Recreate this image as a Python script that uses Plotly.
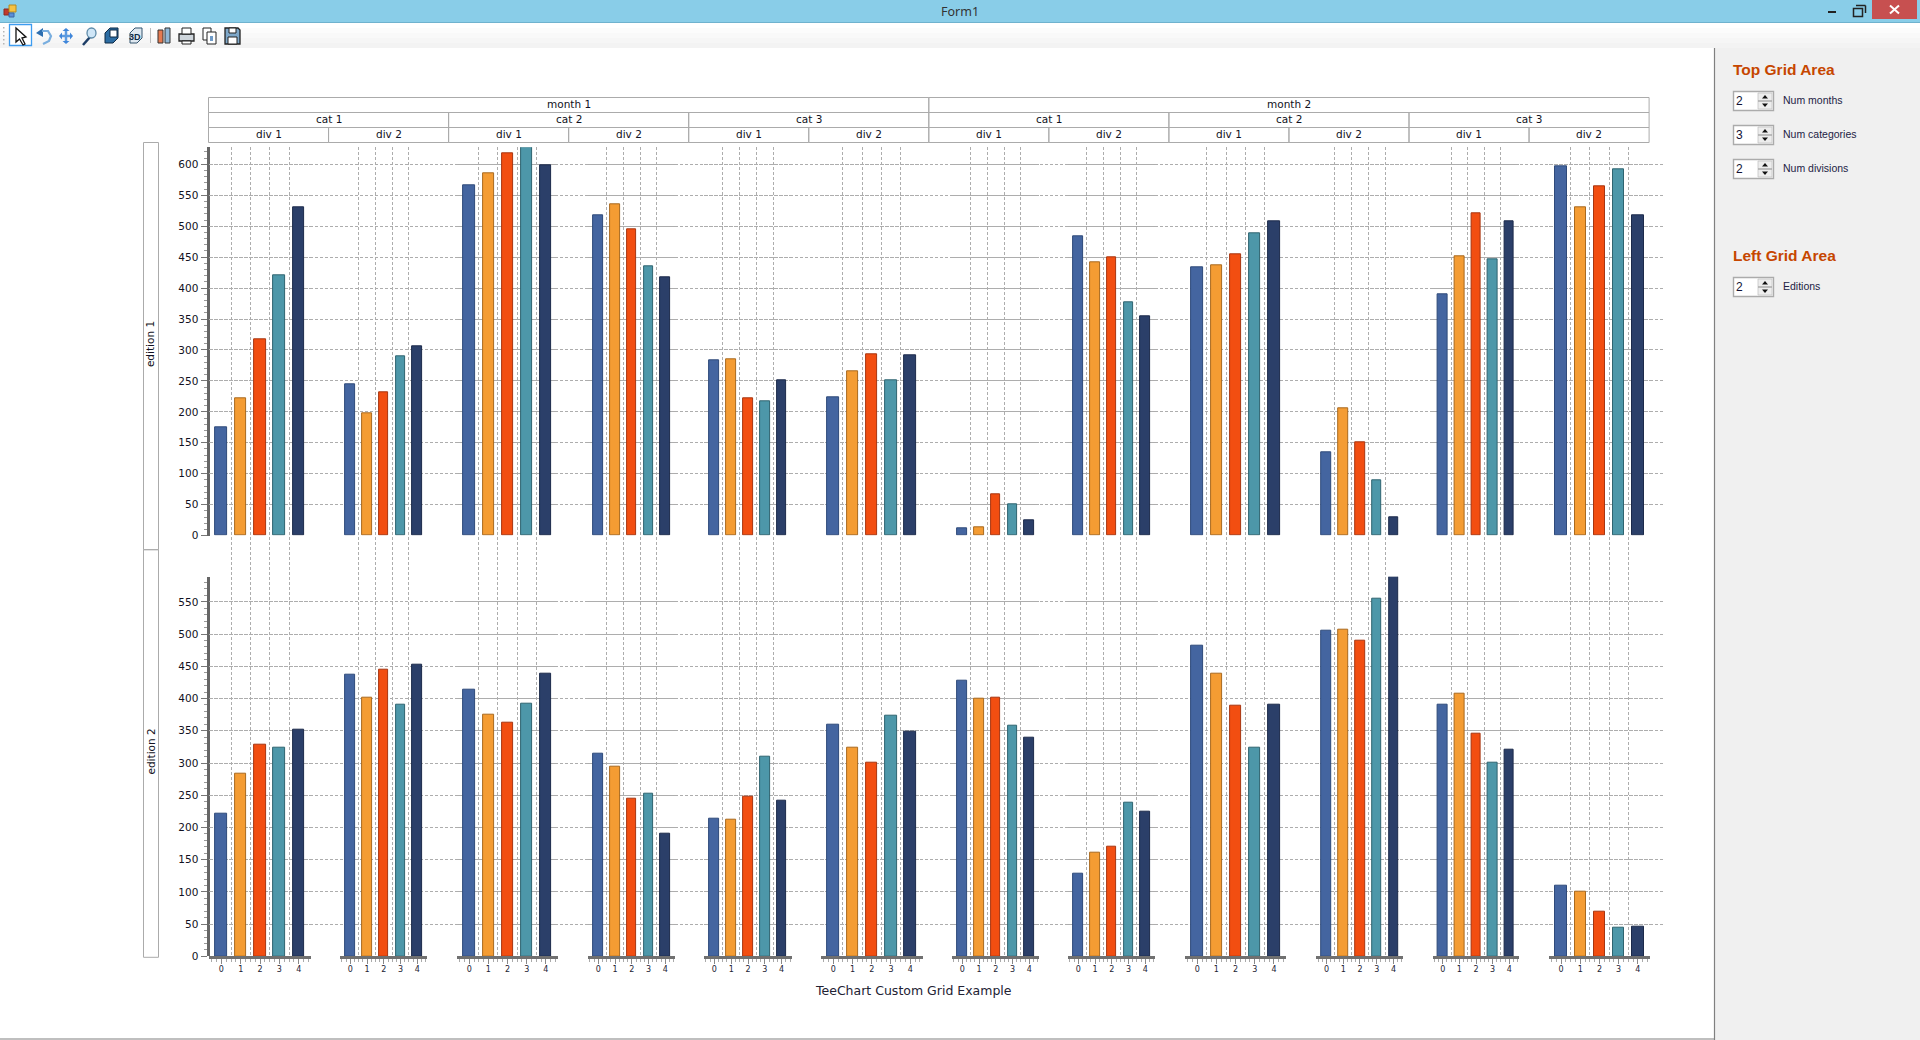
import plotly.graph_objects as go

# ---------- data ----------
CATEGORIES = [0, 1, 2, 3, 4]
EDITION_1 = [
    [175, 222, 318, 421, 531], [245, 197, 232, 290, 306],
    [566, 586, 618, 627, 599], [518, 536, 495, 435, 418],
    [284, 285, 222, 217, 251], [224, 266, 293, 251, 292],
    [12, 14, 67, 50, 25], [484, 442, 450, 377, 355],
    [434, 437, 455, 489, 508], [135, 206, 150, 90, 30],
    [390, 452, 521, 447, 508], [597, 531, 565, 592, 518],
]
EDITION_2 = [
    [221, 283, 329, 323, 351], [437, 402, 445, 391, 453],
    [414, 375, 363, 392, 439], [315, 294, 244, 252, 191],
    [213, 212, 247, 310, 241], [360, 324, 300, 374, 348],
    [428, 400, 402, 358, 340], [128, 161, 170, 239, 224],
    [482, 439, 389, 324, 391], [505, 507, 490, 555, 589],
    [391, 408, 346, 301, 321], [110, 100, 69, 45, 46],
]
MONTHS = ["month 1", "month 2"]
CATS = ["cat 1", "cat 2", "cat 3"]
DIVS = ["div 1", "div 2"]
EDITIONS = ["edition 1", "edition 2"]
Y1_RANGE = [0, 627.5]
Y2_RANGE = [0, 589]
Y_TICKS_1 = list(range(0, 601, 50))
Y_TICKS_2 = list(range(0, 551, 50))

# ---------- styles and layout ----------
W, H = 1920, 1040
FILLS = ["#4465A0", "#F49C33", "#F24E11", "#4D97A9", "#2B3F69"]
EDGES = ["#2F4A7A", "#A8691F", "#A73510", "#2F6470", "#1C2A4A"]
GRID = "#adadad"
DASH = "3px,2px"
SEG_SHIFT = 0.8
SEG_START = [208.3, 339.3, 456.3, 587.3, 703.3, 820.3, 951.3, 1067.3, 1184.3, 1315.4, 1431.8, 1548.2]
SEG_END = [310.3, 426.3, 557.3, 674.3, 790.7, 921.7, 1038.3, 1154.3, 1285.4, 1402.5, 1518.2, 1649.3]
WIDE = [1, 0, 1, 0, 0, 1, 0, 0, 1, 0, 0, 1]
UI_FONT = "Liberation Sans"
CHART_FONT = "DejaVu Sans"


def fx(p):
    return p / W


def fy(p):
    return 1 - p / H


shapes = []
ann = []


def rect(x0, y0, x1, y1, fill=None, line=None, lw=1):
    shapes.append(dict(type="rect", xref="paper", yref="paper", x0=fx(x0), x1=fx(x1), y0=fy(y0), y1=fy(y1),
                       fillcolor=fill if fill else "rgba(0,0,0,0)",
                       line=dict(color=line if line else "rgba(0,0,0,0)", width=lw if line else 0)))


def seg(x0, y0, x1, y1, color, lw=1):
    shapes.append(dict(type="line", xref="paper", yref="paper", x0=fx(x0), x1=fx(x1), y0=fy(y0), y1=fy(y1),
                       line=dict(color=color, width=lw)))


def poly(pts, fill=None, line=None, lw=1, close=True):
    d = "M " + " L ".join(f"{fx(a):.5f} {fy(b):.5f}" for a, b in pts) + (" Z" if close else "")
    shapes.append(dict(type="path", xref="paper", yref="paper", path=d,
                       fillcolor=fill if fill else "rgba(0,0,0,0)",
                       line=dict(color=line if line else "rgba(0,0,0,0)", width=lw if line else 0)))


def text(x, y, s, size, color="#111122", family=CHART_FONT, anchor="center", angle=0, bold=False):
    ann.append(dict(xref="paper", yref="paper", x=fx(x), y=fy(y), text=f"<b>{s}</b>" if bold else s,
                    showarrow=False, xanchor=anchor, yanchor="middle", textangle=angle,
                    font=dict(family=family, size=size, color=color)))


# window chrome
rect(0, 0, W, 22, fill="#89CDE8")
seg(0, 22.5, W, 22.5, "#6FB2CE", 1)
for i, c in enumerate(["#ffffff", "#fcfcfc", "#f9f9f9", "#f6f6f6", "#f3f3f3"]):
    rect(0, 23 + i * 5, W, 28 + i * 5, fill=c)
text(960, 12, "Form1", 12.5, "#333333", "Noto Sans")
rect(1872, 0, 1917, 19, fill="#C75050")
seg(1890, 5.5, 1899, 13.5, "#ffffff", 2)
seg(1890, 13.5, 1899, 5.5, "#ffffff", 2)
seg(1828, 12, 1836, 12, "#222222", 2)
rect(1853.5, 8.5, 1862.5, 16.5, line="#222222", lw=1.5)
seg(1856, 5.5, 1865.5, 5.5, "#222222", 1.5)
seg(1865.5, 5.5, 1865.5, 13, "#222222", 1.5)
# app icon
rect(4, 9, 9, 15, fill="#C0392B", line="#8c2a20")
rect(9, 5, 16, 12, fill="#F5C242", line="#b58a1f")
rect(9, 13, 14, 17, fill="#5B8FD9", line="#3c66a5")
# toolbar icons
for y in (27, 31, 35, 39, 43):
    rect(3, y, 4.5, y + 1.5, fill="#b5b5b5")
rect(9.5, 24.5, 31.5, 45.5, fill="#ffffff", line="#3D9CF0", lw=1.3)
poly([(16, 28), (16, 42), (19.5, 39), (23, 45), (25, 44), (22, 38), (26, 37)], fill="#ffffff", line="#111111", lw=1.3)
poly([(36, 33), (43, 28), (43, 37)], fill="#2E6FB0")
poly([(42, 31), (48, 31), (51, 36), (49, 41), (43, 44)], line="#79AEDF", lw=2.2, close=False)
seg(61, 36, 71, 36, "#5C9BE0", 2.5)
seg(66, 31, 66, 41, "#5C9BE0", 2.5)
poly([(59, 36), (62, 32.5), (62, 39.5)], fill="#3F86DA")
poly([(73, 36), (70, 32.5), (70, 39.5)], fill="#3F86DA")
poly([(66, 28), (62.5, 31), (69.5, 31)], fill="#3F86DA")
poly([(66, 44), (62.5, 41), (69.5, 41)], fill="#3F86DA")
poly([(83, 45), (90, 37)], line="#1C3D66", lw=2.5, close=False)
shapes.append(dict(type="circle", xref="paper", yref="paper", x0=fx(87), x1=fx(96), y0=fy(28), y1=fy(38),
                   fillcolor="#CFE6F7", line=dict(color="#5D8AA8", width=1.3)))
poly([(105, 33), (110, 28), (118, 28), (118, 38), (113, 43), (105, 43)], fill="#2D6DA3", line="#0E2A45")
rect(110, 30, 117, 37, fill="#ffffff", line="#0E2A45")
poly([(130, 33), (135, 28), (142, 28), (142, 38), (137, 43), (130, 43)], fill="#dfe8f0", line="#33556F")
text(135, 37, "3D", 9, "#0E2A45", UI_FONT, bold=True)
seg(150.5, 28, 150.5, 43, "#bdbdbd", 1)
poly([(158, 30), (163, 30), (163, 43), (158, 43)], fill="#E57A50", line="#333333")
poly([(165, 28), (170, 28), (170, 43), (165, 43)], fill="#8FB7D6", line="#333333")
rect(179, 34, 194, 41, fill="#cfd6dc", line="#222222", lw=1.3)
rect(182, 28, 191, 34, fill="#ffffff", line="#222222")
rect(182, 41, 191, 44, fill="#ffffff", line="#222222")
rect(203, 28, 211, 40, fill="#ffffff", line="#222222")
rect(207, 32, 216, 44, fill="#ffffff", line="#222222")
rect(210, 36, 213, 41, fill="#6F9BC8")
poly([(225, 28), (238, 28), (240, 30), (240, 44), (225, 44)], fill="#7FA8C9", line="#222222", lw=1.3)
rect(229, 28, 236, 33, fill="#ffffff", line="#222222")
rect(228, 37, 237, 44, fill="#ffffff", line="#222222")

# right panel
rect(1714, 48, W, H, fill="#F0F0F0")
seg(1714.5, 48, 1714.5, H, "#808080", 1.2)
seg(0, 1039, 1714, 1039, "#808080", 1.2)
text(1731, 70, "Top Grid Area", 15.5, "#C64600", UI_FONT, "left", bold=True)
text(1731, 255, "Left Grid Area", 15.5, "#C64600", UI_FONT, "left", bold=True)
for label, value, y0 in [("Num months", "2", 91.5), ("Num categories", "3", 125.5),
                         ("Num divisions", "2", 159.5), ("Editions", "2", 277.5)]:
    rect(1733.5, y0, 1773.5, y0 + 19, fill="#ffffff", line="#ABABAB", lw=1.4)
    rect(1758, y0 + 1.5, 1772, y0 + 17.5, fill="#EDEDED", line="#C4C4C4", lw=0.8)
    seg(1758, y0 + 9.5, 1772, y0 + 9.5, "#ABABAB", 1.5)
    poly([(1762, y0 + 7), (1768, y0 + 7), (1765, y0 + 3.5)], fill="#111111")
    poly([(1762, y0 + 12), (1768, y0 + 12), (1765, y0 + 15.5)], fill="#111111")
    text(1733.5, y0 + 9.5, value, 12, "#111133", UI_FONT, "left")
    text(1781, y0 + 8.8, label, 10.5, "#222244", UI_FONT, "left")

# header grid
HX0, CELL = 208.5, 120.05
ROWS = [97.5, 112.5, 127.5, 142.5]
for r in range(3):
    n = [len(MONTHS), len(MONTHS) * len(CATS), len(MONTHS) * len(CATS) * len(DIVS)][r]
    span = 12 / n
    names = [MONTHS, CATS, DIVS][r]
    for i in range(n):
        x0 = HX0 + i * span * CELL
        rect(x0, ROWS[r], x0 + span * CELL, ROWS[r + 1], line="#ABABAB", lw=1)
        text(x0 + span * CELL / 2 + 0.4, (ROWS[r] + ROWS[r + 1]) / 2 - 0.7, names[i % len(names)], 10.5)
# left strip
for y0, y1, name in [(142.5, 549.7, EDITIONS[0]), (549.7, 957.3, EDITIONS[1])]:
    rect(143.5, y0, 158.5, y1, line="#ABABAB", lw=1)
    text(150.0, (y0 + y1) / 2 - 2.0, name, 10.5, angle=-90)

TOP1, BOT1, TOP2, BOT2 = 147.3, 535.6, 576.7, 956.4
XMIN, XMAX = 209.5, 1663.5

fig = go.Figure()
layout = dict(
    width=W, height=H, margin=dict(l=0, r=0, t=0, b=0, pad=0, autoexpand=False),
    paper_bgcolor="#ffffff", plot_bgcolor="rgba(0,0,0,0)", showlegend=False, bargap=0,
    font=dict(family=CHART_FONT, size=10.5, color="#111122"),
)


def y_axis(rng, ticks, top, bot, anchor):
    return dict(domain=[fy(bot), fy(top)], range=rng, tickmode="array", tickvals=ticks, anchor=anchor,
                showline=True, linecolor="#666666", linewidth=3, ticks="outside", ticklen=6, tickcolor="#777777",
                tickfont=dict(family=CHART_FONT, size=10.5, color="#111122"), ticklabelstandoff=0,
                showgrid=True, gridcolor=GRID, griddash=DASH, gridwidth=1,
                zeroline=True, zerolinecolor="rgba(0,0,0,0)", zerolinewidth=0,
                minor=dict(dtick=10, ticks="outside", ticklen=3, tickcolor="#999999", showgrid=False))


layout["yaxis"] = y_axis(Y1_RANGE, Y_TICKS_1, TOP1, BOT1, "x")
layout["yaxis2"] = y_axis(Y2_RANGE, Y_TICKS_2, TOP2, BOT2, "x2")
layout["yaxis3"] = dict(domain=[fy(BOT2), fy(TOP1)], range=[0, 1], visible=False, anchor="x3")
base = dict(domain=[fx(XMIN), fx(XMAX)], range=[0, 1], visible=False)
layout["xaxis"] = dict(base, anchor="y")
layout["xaxis2"] = dict(base, anchor="y2")

# empty traces keep the grid-only subplots alive
fig.add_trace(go.Scatter(x=[None], y=[None], xaxis="x", yaxis="y", mode="none", hoverinfo="skip"))
fig.add_trace(go.Scatter(x=[None], y=[None], xaxis="x2", yaxis="y2", mode="none", hoverinfo="skip"))

NG = len(SEG_START)
for g in range(NG):
    pad0, pad1 = (0.634, 0.64) if WIDE[g] else (0.61, 0.585)
    rng = [-pad0, 4 + pad1]
    dom = [fx(SEG_START[g] + SEG_SHIFT), fx(SEG_END[g] + SEG_SHIFT)]
    grid_id, top_id, bot_id = 3 + g, 3 + NG + g, 3 + 2 * NG + g
    # vertical dashed grid running through both editions
    layout[f"xaxis{grid_id}"] = dict(domain=dom, range=rng, anchor="y3", tickmode="array",
                                     tickvals=[0.5, 1.5, 2.5, 3.5], ticks="", showticklabels=False,
                                     showline=False, zeroline=False, showgrid=True, gridcolor=GRID,
                                     griddash=DASH, gridwidth=1)
    fig.add_trace(go.Scatter(x=[None], y=[None], xaxis=f"x{grid_id}", yaxis="y3", mode="none", hoverinfo="skip"))
    layout[f"xaxis{top_id}"] = dict(domain=dom, range=rng, anchor="y", visible=False)
    quarters = [v / 4 for v in range(-2, 19) if v % 4 != 0]
    layout[f"xaxis{bot_id}"] = dict(domain=dom, range=rng, anchor="y2", tickmode="array",
                                    tickvals=CATEGORIES, ticktext=[str(c) for c in CATEGORIES],
                                    showline=True, linecolor="#707070", linewidth=3, ticks="outside",
                                    ticklen=5, tickcolor="#888888", showgrid=False, zeroline=False,
                                    ticklabelstandoff=-2,
                                    tickfont=dict(family=CHART_FONT, size=8, color="#222233"),
                                    minor=dict(tickmode="array", tickvals=quarters, ticks="outside", ticklen=3,
                                               tickcolor="#aaaaaa", showgrid=False))
    width = 0.60 if WIDE[g] else 0.57
    for values, xid, yid in [(EDITION_1[g], top_id, "y"), (EDITION_2[g], bot_id, "y2")]:
        fig.add_trace(go.Bar(x=CATEGORIES, y=values, xaxis=f"x{xid}", yaxis=yid, width=width,
                             marker=dict(color=FILLS, line=dict(color=EDGES, width=1)), hoverinfo="x+y"))

text(913, 990.5, "TeeChart Custom Grid Example", 12.5, "#222233")
layout["shapes"] = shapes
layout["annotations"] = ann
fig.update_layout(**layout)
fig.write_html("out.html", config=dict(displayModeBar=False),
               post_script="document.body.style.margin='0';document.body.style.overflow='hidden';")
